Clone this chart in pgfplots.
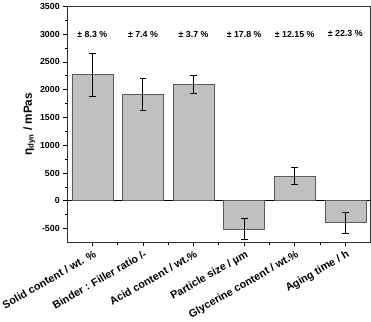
\documentclass[border=0pt]{standalone}
\usepackage{pgfplots}
\pgfplotsset{compat=1.18}
\usepackage{fontspec}
\setmainfont{Liberation Sans}
\definecolor{barfill}{RGB}{192,192,192}
\definecolor{baredge}{RGB}{90,90,90}
\begin{document}
\begin{tikzpicture}
\begin{axis}[
  scale only axis,
  width=310pt, height=241pt,
  xmin=-0.5, xmax=5.5,
  ymin=-750, ymax=3500,
  ytick={-500,0,500,1000,1500,2000,2500,3000,3500},
  minor y tick num=1,
  xtick={0,1,2,3,4,5},
  minor xtick={0.5,1.5,2.5,3.5,4.5},
  xticklabels={Solid content / wt. \%, Binder : Filler ratio /-, Acid content / wt.\%, Particle size / µm, Glycerine content / wt.\%, Aging time / h},
  xticklabel style={rotate=30, anchor=north east, font=\bfseries\fontsize{11}{12}\selectfont, inner sep=1pt, yshift=-2pt},
  yticklabel style={font=\bfseries\fontsize{9}{10}\selectfont},
  /pgf/number format/assume math mode=true,
  /pgf/number format/1000 sep={},
  axis line style={line width=0.8pt, black!80},
  tick style={line width=0.7pt, black},
  tick align=outside,
  major tick length=4pt, minor tick length=2.5pt,
  xtick pos=bottom, ytick pos=left,
  ylabel={\bfseries η\textsubscript{dyn} / mPas},
  ylabel style={font=\fontsize{12}{14}\selectfont, yshift=-2pt},
  clip=false,
]
\draw[black, line width=0.7pt] (axis cs:-0.5,0) -- (axis cs:5.5,0);
\addplot[ybar, bar width=0.81, fill=barfill, draw=baredge, line width=0.6pt,
  error bars/.cd, y dir=both, y explicit, error bar style={line width=1pt, black}, error mark options={rotate=90, mark size=3.5pt, line width=1pt, black}]
  coordinates {
  (0,2270) +- (0,385)
  (1,1913) +- (0,290)
  (2,2100) +- (0,160)
  (3,-512) +- (0,185)
  (4,440) +- (0,155)
  (5,-395) +- (0,190)
  };
\node[font=\bfseries\fontsize{9}{10}\selectfont] at (axis cs:0,3000) {± 8.3 \%};
\node[font=\bfseries\fontsize{9}{10}\selectfont] at (axis cs:1,3000) {± 7.4 \%};
\node[font=\bfseries\fontsize{9}{10}\selectfont] at (axis cs:2,3000) {± 3.7 \%};
\node[font=\bfseries\fontsize{9}{10}\selectfont] at (axis cs:3,3000) {± 17.8 \%};
\node[font=\bfseries\fontsize{9}{10}\selectfont] at (axis cs:4,3000) {± 12.15 \%};
\node[font=\bfseries\fontsize{9}{10}\selectfont] at (axis cs:5,3020) {± 22.3 \%};
\end{axis}
\end{tikzpicture}
\end{document}
